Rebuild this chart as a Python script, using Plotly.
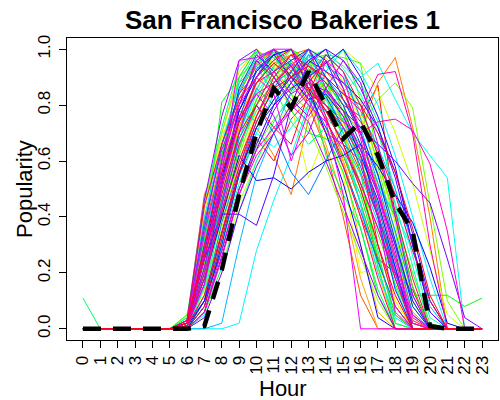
import colorsys
import plotly.graph_objects as go

# ---------------- data ----------------
hours = list(range(24))
hour_labels = [str(h) for h in hours]
y_tick_values = [0.0, 0.2, 0.4, 0.6, 0.8, 1.0]
y_tick_labels = ["0.0", "0.2", "0.4", "0.6", "0.8", "1.0"]

# average popularity (thick dashed line)
mean_popularity = [0, 0, 0, 0, 0, 0, 0, 0.01, 0.21, 0.48, 0.70, 0.86,
                   0.79, 0.92, 0.80, 0.68, 0.74, 0.62, 0.45, 0.35, 0.01, 0, 0, 0]

# individual bakeries (hour 0 .. 23)
a1 = [0, 0, 0, 0, 0, 0, 0.03, 0.48, 0.62, 0.80, 0.95, 1.00, 0.90, 0.85, 0.75, 0.62, 0.45, 0.25, 0.05, 0, 0, 0, 0, 0]
a2 = [0, 0, 0, 0, 0, 0, 0.02, 0.45, 0.70, 0.92, 1.00, 0.95, 0.88, 0.80, 0.72, 0.60, 0.40, 0.20, 0, 0, 0, 0, 0, 0]
a3 = [0, 0, 0, 0, 0, 0, 0.05, 0.40, 0.58, 0.78, 0.90, 0.97, 1.00, 0.93, 0.85, 0.70, 0.52, 0.30, 0.08, 0, 0, 0, 0, 0]
a4 = [0.11, 0, 0, 0, 0, 0, 0.02, 0.38, 0.65, 0.88, 0.99, 0.97, 0.90, 0.82, 0.78, 0.66, 0.50, 0.28, 0.02, 0, 0, 0, 0, 0]
a5 = [0, 0, 0, 0, 0, 0, 0.04, 0.33, 0.81, 0.90, 0.96, 0.88, 0.92, 0.84, 0.70, 0.56, 0.36, 0.12, 0, 0, 0, 0, 0, 0]
a6 = [0, 0, 0, 0, 0, 0, 0.03, 0.35, 0.55, 0.70, 0.85, 1.00, 0.95, 0.90, 0.80, 0.75, 0.60, 0.42, 0.15, 0, 0, 0, 0, 0]
a7 = [0, 0, 0, 0, 0, 0, 0.01, 0.30, 0.60, 0.85, 0.97, 1.00, 0.93, 0.88, 0.76, 0.68, 0.55, 0.38, 0.18, 0.02, 0, 0, 0, 0]
a8 = [0, 0, 0, 0, 0, 0, 0.02, 0.28, 0.52, 0.75, 0.93, 0.98, 1.00, 0.90, 0.83, 0.72, 0.58, 0.40, 0.22, 0, 0, 0, 0, 0]

b1 = [0, 0, 0, 0, 0, 0, 0.01, 0.22, 0.50, 0.72, 0.88, 0.95, 0.98, 1.00, 0.92, 0.85, 0.70, 0.50, 0.30, 0.05, 0, 0, 0, 0]
b2 = [0, 0, 0, 0, 0, 0, 0.02, 0.18, 0.45, 0.68, 0.82, 0.90, 0.86, 0.95, 1.00, 0.88, 0.76, 0.60, 0.38, 0.12, 0, 0, 0, 0]
b3 = [0, 0, 0, 0, 0, 0, 0, 0.15, 0.40, 0.62, 0.80, 0.92, 1.00, 0.96, 0.85, 0.78, 0.62, 0.45, 0.25, 0.02, 0, 0, 0, 0]
b4 = [0, 0, 0, 0, 0, 0, 0.02, 0.25, 0.55, 0.96, 0.97, 1.00, 1.00, 0.90, 0.74, 0.48, 0, 0, 0, 0, 0, 0, 0, 0]
b5 = [0, 0, 0, 0, 0, 0, 0.01, 0.20, 0.48, 0.70, 0.90, 0.99, 0.85, 0.93, 0.88, 0.74, 0.66, 0.52, 0.40, 0.15, 0, 0, 0, 0]
b6 = [0, 0, 0, 0, 0, 0, 0, 0.12, 0.42, 0.66, 0.78, 0.84, 0.90, 0.98, 0.94, 0.90, 0.80, 0.62, 0.45, 0.22, 0, 0, 0, 0]
b7 = [0, 0, 0, 0, 0, 0, 0.01, 0.25, 0.41, 0.41, 0.37, 0.55, 0.80, 0.95, 1.00, 0.86, 0.70, 0.48, 0.30, 0.10, 0, 0, 0, 0]
b8 = [0, 0, 0, 0, 0, 0, 0.02, 0.10, 0.38, 0.58, 0.74, 0.86, 0.95, 0.90, 0.98, 0.92, 0.75, 0.55, 0.35, 0.12, 0, 0, 0, 0]
b9 = [0, 0, 0, 0, 0, 0, 0, 0.08, 0.30, 0.55, 0.72, 0.80, 0.92, 1.00, 0.96, 0.82, 0.70, 0.55, 0.32, 0.08, 0, 0, 0, 0]
b10 = [0, 0, 0, 0, 0, 0, 0.01, 0.16, 0.52, 0.80, 0.96, 0.90, 0.82, 0.76, 0.86, 0.78, 0.64, 0.48, 0.28, 0, 0, 0, 0, 0]

c1 = [0, 0, 0, 0, 0, 0, 0, 0, 0, 0.02, 0.28, 0.46, 0.62, 0.80, 0.92, 1.00, 0.92, 0.80, 0.62, 0.40, 0.18, 0, 0, 0]
c2 = [0, 0, 0, 0, 0, 0, 0, 0, 0.02, 0.30, 0.55, 0.70, 0.85, 0.98, 0.95, 0.88, 0.78, 0.65, 0.50, 0.30, 0.08, 0, 0, 0]
c3 = [0, 0, 0, 0, 0, 0, 0, 0.05, 0.22, 0.45, 0.60, 0.72, 0.80, 0.88, 0.95, 1.00, 0.95, 0.85, 0.70, 0.52, 0.28, 0.05, 0, 0]
c4 = [0, 0, 0, 0, 0, 0, 0, 0.05, 0.30, 0.55, 0.70, 0.65, 0.72, 0.80, 0.78, 0.85, 0.90, 0.95, 0.82, 0.70, 0.62, 0.54, 0, 0]
c5 = [0, 0, 0, 0, 0, 0, 0, 0.10, 0.30, 0.55, 0.72, 0.62, 0.48, 0.75, 0.82, 0.78, 0.70, 0.88, 0.97, 0.72, 0.40, 0, 0, 0]
c6 = [0, 0, 0, 0, 0, 0, 0.02, 0.20, 0.45, 0.65, 0.80, 0.88, 0.92, 0.96, 0.98, 0.97, 0.95, 0.60, 0.40, 0.20, 0.02, 0, 0, 0]
c7 = [0, 0, 0, 0, 0, 0, 0, 0.08, 0.28, 0.50, 0.65, 0.75, 0.82, 0.85, 0.80, 0.76, 0.72, 0.82, 0.88, 0.79, 0.45, 0.10, 0, 0]
c8 = [0, 0, 0, 0, 0, 0, 0, 0.06, 0.25, 0.48, 0.62, 0.70, 0.78, 0.86, 0.90, 0.84, 0.78, 0.91, 0.92, 0.70, 0.30, 0, 0, 0]
c9 = [0, 0, 0, 0, 0, 0, 0.01, 0.12, 0.35, 0.55, 0.68, 0.60, 0.75, 0.82, 0.88, 0.80, 0.76, 0.87, 0.40, 0.15, 0, 0, 0, 0]
c10 = [0, 0, 0, 0, 0, 0, 0, 0.06, 0.28, 0.50, 0.64, 0.72, 0.78, 0.84, 0.80, 0.74, 0.70, 0.74, 0.75, 0.71, 0.59, 0.35, 0, 0]
c11 = [0, 0, 0, 0, 0, 0, 0, 0.04, 0.20, 0.42, 0.58, 0.70, 0.80, 0.88, 0.85, 0.78, 0.72, 0.66, 0.60, 0.52, 0.45, 0.25, 0.04, 0]
c12 = [0, 0, 0, 0, 0, 0, 0.01, 0.18, 0.40, 0.62, 0.53, 0.54, 0.50, 0.56, 0.60, 0.62, 0.66, 0.58, 0.48, 0.38, 0.22, 0.02, 0, 0]
c13 = [0, 0, 0, 0, 0, 0, 0, 0.10, 0.32, 0.55, 0.72, 0.82, 0.90, 0.95, 0.88, 0.80, 0.60, 0.40, 0.25, 0.12, 0.12, 0.12, 0.08, 0.11]
c14 = [0, 0, 0, 0, 0, 0, 0.01, 0.15, 0.40, 0.60, 0.78, 0.85, 0.90, 0.80, 0.70, 0.55, 0.20, 0.22, 0.10, 0, 0, 0, 0, 0]
c15 = [0, 0, 0, 0, 0, 0, 0.02, 0.20, 0.45, 0.65, 0.80, 0.88, 0.95, 0.85, 0.75, 0.60, 0.40, 0.25, 0.20, 0.14, 0, 0, 0, 0]

d1 = [0, 0, 0, 0, 0, 0, 0.02, 0.30, 0.58, 0.82, 0.94, 1.00, 0.96, 0.88, 0.80, 0.70, 0.56, 0.40, 0.20, 0.03, 0, 0, 0, 0]
d2 = [0, 0, 0, 0, 0, 0, 0.01, 0.26, 0.50, 0.76, 0.88, 0.96, 1.00, 0.94, 0.86, 0.74, 0.60, 0.44, 0.26, 0.06, 0, 0, 0, 0]
d3 = [0, 0, 0, 0, 0, 0, 0.03, 0.42, 0.68, 0.86, 0.98, 0.92, 0.86, 0.96, 0.90, 0.72, 0.50, 0.30, 0.10, 0, 0, 0, 0, 0]
d4 = [0, 0, 0, 0, 0, 0, 0, 0.14, 0.36, 0.60, 0.76, 0.88, 0.94, 1.00, 0.97, 0.90, 0.78, 0.60, 0.38, 0.10, 0, 0, 0, 0]
d5 = [0, 0, 0, 0, 0, 0, 0.02, 0.24, 0.46, 0.64, 0.82, 0.90, 0.84, 0.78, 0.92, 1.00, 0.82, 0.58, 0.34, 0.08, 0, 0, 0, 0]
d6 = [0, 0, 0, 0, 0, 0, 0.01, 0.32, 0.62, 0.90, 1.00, 0.93, 0.78, 0.70, 0.68, 0.62, 0.48, 0.26, 0.05, 0, 0, 0, 0, 0]
d7 = [0, 0, 0, 0, 0, 0, 0.04, 0.46, 0.72, 0.94, 0.99, 0.86, 0.74, 0.66, 0.72, 0.64, 0.45, 0.22, 0, 0, 0, 0, 0, 0]
d8 = [0, 0, 0, 0, 0, 0, 0, 0.10, 0.30, 0.52, 0.70, 0.84, 0.92, 0.97, 1.00, 0.93, 0.84, 0.70, 0.50, 0.26, 0.04, 0, 0, 0]
d9 = [0, 0, 0, 0, 0, 0, 0.01, 0.20, 0.44, 0.70, 0.86, 0.80, 0.88, 1.00, 0.90, 0.82, 0.72, 0.52, 0.30, 0.05, 0, 0, 0, 0]
d10 = [0, 0, 0, 0, 0, 0, 0.03, 0.36, 0.66, 0.84, 0.92, 1.00, 0.94, 0.84, 0.72, 0.58, 0.42, 0.24, 0.08, 0, 0, 0, 0, 0]
d11 = [0, 0, 0, 0, 0, 0, 0.02, 0.28, 0.54, 0.78, 0.92, 0.98, 0.90, 0.82, 0.84, 0.76, 0.62, 0.46, 0.22, 0, 0, 0, 0, 0]
d12 = [0, 0, 0, 0, 0, 0, 0, 0.06, 0.26, 0.48, 0.64, 0.78, 0.88, 0.96, 1.00, 0.96, 0.86, 0.72, 0.54, 0.30, 0.06, 0, 0, 0]
d13 = [0, 0, 0, 0, 0, 0, 0.01, 0.22, 0.50, 0.74, 0.84, 0.76, 0.62, 0.70, 0.86, 0.96, 0.88, 0.66, 0.40, 0.12, 0, 0, 0, 0]
d14 = [0, 0, 0, 0, 0, 0, 0.02, 0.34, 0.60, 0.80, 0.90, 0.84, 0.60, 0.78, 0.96, 0.90, 0.70, 0.48, 0.24, 0.02, 0, 0, 0, 0]
d15 = [0, 0, 0, 0, 0, 0, 0.01, 0.18, 0.42, 0.66, 0.80, 0.92, 0.98, 0.88, 0.78, 0.66, 0.52, 0.36, 0.18, 0, 0, 0, 0, 0]
d16 = [0, 0, 0, 0, 0, 0, 0.03, 0.44, 0.66, 0.82, 0.90, 0.96, 1.00, 0.92, 0.76, 0.58, 0.40, 0.18, 0, 0, 0, 0, 0, 0]
d17 = [0, 0, 0, 0, 0, 0, 0.01, 0.12, 0.34, 0.58, 0.76, 0.90, 0.98, 0.94, 0.88, 0.82, 0.74, 0.64, 0.48, 0.28, 0.10, 0, 0, 0]
d18 = [0, 0, 0, 0, 0, 0, 0.02, 0.26, 0.48, 0.70, 0.80, 0.72, 0.66, 0.84, 0.98, 0.92, 0.80, 0.62, 0.42, 0.18, 0, 0, 0, 0]
d19 = [0, 0, 0, 0, 0, 0, 0, 0.08, 0.32, 0.56, 0.74, 0.86, 0.90, 0.94, 0.90, 0.84, 0.80, 0.70, 0.56, 0.36, 0.12, 0, 0, 0]
d20 = [0, 0, 0, 0, 0, 0, 0.02, 0.30, 0.56, 0.74, 0.88, 0.95, 0.90, 0.86, 0.78, 0.66, 0.50, 0.30, 0.12, 0, 0, 0, 0, 0]

e1 = [0, 0, 0, 0, 0, 0, 0.02, 0.25, 0.52, 0.78, 0.90, 0.98, 1.00, 0.86, 0.70, 0.52, 0.30, 0.04, 0, 0, 0, 0, 0, 0]
e2 = [0, 0, 0, 0, 0, 0, 0.01, 0.20, 0.46, 0.72, 0.88, 0.95, 0.90, 0.80, 0.66, 0.46, 0.18, 0, 0, 0, 0, 0, 0, 0]
e3 = [0, 0, 0, 0, 0, 0, 0.05, 0.32, 0.60, 0.85, 0.95, 0.90, 0.96, 1.00, 0.84, 0.68, 0.52, 0.34, 0.16, 0.02, 0, 0, 0, 0]
e4 = [0, 0, 0, 0, 0, 0, 0, 0.15, 0.44, 0.68, 0.84, 0.94, 1.00, 0.95, 0.82, 0.70, 0.60, 0.50, 0.42, 0.28, 0.10, 0, 0, 0]
e5 = [0, 0, 0, 0, 0, 0, 0.01, 0.10, 0.28, 0.50, 0.66, 0.80, 0.86, 0.90, 0.95, 1.00, 0.90, 0.76, 0.58, 0.30, 0.06, 0, 0, 0]
e6 = [0, 0, 0, 0, 0, 0, 0.03, 0.38, 0.64, 0.80, 0.96, 1.00, 0.88, 0.80, 0.74, 0.64, 0.52, 0.36, 0.20, 0.05, 0, 0, 0, 0]
e7 = [0, 0, 0, 0, 0, 0, 0.02, 0.28, 0.58, 0.76, 0.84, 0.88, 0.94, 1.00, 0.86, 0.76, 0.64, 0.50, 0.26, 0.04, 0, 0, 0, 0]

f1 = [0, 0, 0, 0, 0, 0, 0.02, 0.35, 0.62, 0.84, 0.96, 1.00, 0.92, 0.80, 0.64, 0.40, 0.12, 0, 0, 0, 0, 0, 0, 0]
f2 = [0, 0, 0, 0, 0, 0, 0.01, 0.24, 0.50, 0.72, 0.86, 0.94, 0.98, 0.92, 0.84, 0.60, 0.30, 0.06, 0, 0, 0, 0, 0, 0]
f3 = [0, 0, 0, 0, 0, 0, 0, 0.12, 0.38, 0.60, 0.76, 0.86, 0.80, 0.54, 0.70, 0.84, 0.76, 0.56, 0.30, 0.04, 0, 0, 0, 0]
f4 = [0, 0, 0, 0, 0, 0, 0.03, 0.44, 0.70, 0.90, 1.00, 0.94, 0.84, 0.72, 0.58, 0.42, 0.26, 0.10, 0, 0, 0, 0, 0, 0]
f5 = [0, 0, 0, 0, 0, 0, 0.01, 0.18, 0.40, 0.64, 0.82, 0.94, 1.00, 0.96, 0.90, 0.78, 0.56, 0.22, 0.02, 0, 0, 0, 0, 0]
f6 = [0, 0, 0, 0, 0, 0, 0.02, 0.30, 0.56, 0.78, 0.74, 0.86, 0.96, 0.90, 0.62, 0.48, 0.36, 0.14, 0, 0, 0, 0, 0, 0]
f7 = [0, 0, 0, 0, 0, 0, 0, 0.06, 0.22, 0.42, 0.60, 0.74, 0.84, 0.92, 0.98, 0.94, 0.88, 0.74, 0.44, 0.10, 0, 0, 0, 0]
f8 = [0, 0, 0, 0, 0, 0, 0.02, 0.40, 0.66, 0.88, 0.94, 0.84, 0.90, 0.98, 0.86, 0.70, 0.44, 0.20, 0.04, 0, 0, 0, 0, 0]
f9 = [0, 0, 0, 0, 0, 0, 0.01, 0.22, 0.46, 0.68, 0.80, 0.70, 0.56, 0.48, 0.60, 0.72, 0.64, 0.44, 0.20, 0, 0, 0, 0, 0]
f10 = [0, 0, 0, 0, 0, 0, 0.02, 0.28, 0.60, 0.86, 0.98, 0.92, 0.96, 1.00, 0.90, 0.80, 0.66, 0.40, 0.14, 0, 0, 0, 0, 0]
f11 = [0, 0, 0, 0, 0, 0, 0, 0.10, 0.34, 0.56, 0.72, 0.82, 0.90, 0.96, 0.92, 0.88, 0.82, 0.72, 0.56, 0.34, 0.10, 0, 0, 0]
f12 = [0, 0, 0, 0, 0, 0, 0.03, 0.46, 0.76, 0.96, 1.00, 0.90, 0.80, 0.74, 0.60, 0.44, 0.28, 0.12, 0, 0, 0, 0, 0, 0]
f13 = [0, 0, 0, 0, 0, 0, 0.01, 0.16, 0.44, 0.70, 0.90, 1.00, 0.94, 0.82, 0.70, 0.66, 0.60, 0.40, 0.06, 0, 0, 0, 0, 0]
f14 = [0, 0, 0, 0, 0, 0, 0.02, 0.26, 0.52, 0.74, 0.88, 0.92, 0.84, 0.88, 0.96, 0.86, 0.68, 0.42, 0.18, 0.02, 0, 0, 0, 0]
f15 = [0, 0, 0, 0, 0, 0, 0.01, 0.20, 0.42, 0.60, 0.76, 0.88, 0.94, 0.86, 0.80, 0.72, 0.62, 0.30, 0.08, 0, 0, 0, 0, 0]

# drawing order of the bakeries (column order of the original data)
bakeries = [c15, c9, d1, a1, f1, b1, c5, d2, e2, f2,
            a2, d3, c14, b2, f3, c3, d4, a3, f4, c7,
            b3, d5, c6, e3, f5, c13, a5, d6, b5, f6,
            a4, d7, a6, f7, b6, d8, e4, c4, c1, f8,
            a7, c2, d9, b8, f9, d10, a8, f10, b9, d11,
            c12, e1, e5, f11, b7, d12, c11, b10, f12, d13,
            e6, f13, b4, d14, e7, c10, c8, f14, d15, f15,
            d16, d17, d18, d19, d20]

title_text = "San Francisco Bakeries 1"
x_title = "Hour"
y_title = "Popularity"

# ---------------- figure ----------------
FONT = "Liberation Sans, Arial, Helvetica, sans-serif"
fig = go.Figure()

n = len(bakeries)
for i, vals in enumerate(bakeries):
    r, g, b = colorsys.hsv_to_rgb(i / n, 1, 1)
    col = f"rgb({round(r * 255)},{round(g * 255)},{round(b * 255)})"
    fig.add_trace(go.Scatter(x=hours, y=vals, mode="lines",
                             line=dict(color=col, width=1),
                             showlegend=False, hoverinfo="skip"))

fig.add_trace(go.Scatter(x=hours, y=mean_popularity, mode="lines",
                         line=dict(color="black", width=4.5, dash="18px,12px"),
                         showlegend=False, hoverinfo="skip"))

axis_common = dict(showgrid=False, zeroline=False, showline=True, linecolor="black",
                   linewidth=1, mirror=True, ticks="outside", ticklen=7,
                   tickcolor="black", tickwidth=1,
                   tickfont=dict(family=FONT, size=17, color="black"))

fig.update_layout(
    width=500, height=400,
    margin=dict(l=67, r=2, t=38, b=60),
    paper_bgcolor="white", plot_bgcolor="white",
    xaxis=dict(range=[-0.92, 23.92], tickmode="array", tickvals=hours,
               ticktext=hour_labels, tickangle=-90, ticklabelstandoff=1,
               **axis_common),
    yaxis=dict(range=[-0.04, 1.04], tickmode="array", tickvals=y_tick_values,
               ticktext=y_tick_labels, tickangle=-90, ticklabelstandoff=2,
               **axis_common),
    annotations=[
        dict(text=f"<b>{title_text}</b>", xref="paper", yref="paper", x=0.5, y=1,
             yshift=18, xanchor="center", yanchor="middle", showarrow=False,
             font=dict(family=FONT, size=26, color="black")),
        dict(text=x_title, xref="paper", yref="paper", x=0.5, y=0, yshift=-48,
             xanchor="center", yanchor="middle", showarrow=False,
             font=dict(family=FONT, size=22, color="black")),
        dict(text=y_title, xref="paper", yref="paper", x=0, y=0.5, xshift=-43,
             textangle=-90, xanchor="center", yanchor="middle", showarrow=False,
             font=dict(family=FONT, size=22, color="black")),
    ],
)

fig.write_html("out.html")
